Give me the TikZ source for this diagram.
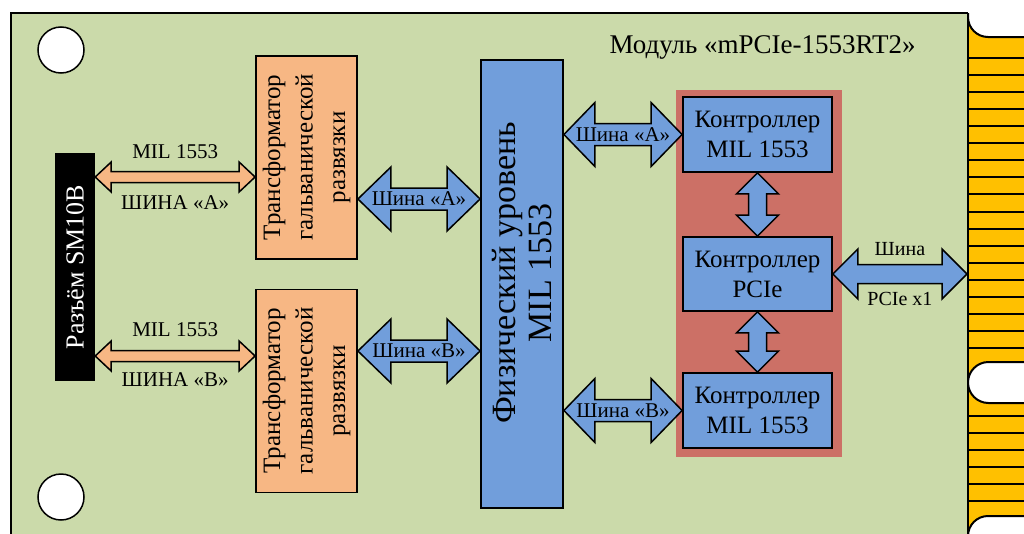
\documentclass[tikz,border=0pt]{standalone}
\usepackage{fontspec}
\setmainfont{Liberation Serif}
\usetikzlibrary{calc}
\definecolor{board}{HTML}{CBDAAA}
\definecolor{gold}{HTML}{FFC000}
\definecolor{orng}{HTML}{F7B784}
\definecolor{blu}{HTML}{719EDB}
\definecolor{redarea}{HTML}{CC7066}
% horizontal double arrow: style, left point, right point, shaft half, head half, head length
\newcommand{\harr}[6]{%
  \path[#1] let \p1=(#2), \p2=(#3) in
  (\x1,\y1) -- (\x1+#6pt,\y1+#5pt) -- (\x1+#6pt,\y1+#4pt) -- (\x2-#6pt,\y1+#4pt) -- (\x2-#6pt,\y1+#5pt)
  -- (\x2,\y1) -- (\x2-#6pt,\y1-#5pt) -- (\x2-#6pt,\y1-#4pt) -- (\x1+#6pt,\y1-#4pt) -- (\x1+#6pt,\y1-#5pt) -- cycle;}
% vertical double arrow: style, top point, bottom point, shaft half, head half, head length
\newcommand{\varr}[6]{%
  \path[#1] let \p1=(#2), \p2=(#3) in
  (\x1,\y1) -- (\x1+#5pt,\y1-#6pt) -- (\x1+#4pt,\y1-#6pt) -- (\x1+#4pt,\y2+#6pt) -- (\x1+#5pt,\y2+#6pt)
  -- (\x1,\y2) -- (\x1-#5pt,\y2+#6pt) -- (\x1-#4pt,\y2+#6pt) -- (\x1-#4pt,\y1-#6pt) -- (\x1-#5pt,\y1-#6pt) -- cycle;}
\begin{document}
\begin{tikzpicture}[x=1pt,y=-1pt,
  box/.style={draw=black, line width=1.8pt, inner sep=0pt},
  trbox/.style={box, fill=orng, minimum width=101pt, minimum height=203pt},
  ctrl/.style={box, fill=blu, minimum width=149pt, minimum height=75pt, align=center,
               font=\fontsize{25}{30}\selectfont},
  hole/.style={circle, draw=black, line width=1.5pt, fill=white, minimum size=46pt, inner sep=0pt},
  oarr/.style={draw=black, fill=orng, line width=1.5pt, line join=miter},
  barr/.style={draw=black, fill=blu, line width=1.5pt, line join=miter},
  lbl/.style={font=\fontsize{21}{24}\selectfont, inner sep=0pt},
  vtext/.style={rotate=90, align=center, inner sep=0pt}
]
\clip (0,0) rectangle (1024,533);
\fill[white] (0,0) rectangle (1024,533);
% board
\draw[fill=board, line width=2pt] (11,13) rectangle (968,545);
% gold edge connector
\fill[gold] (968,13) rectangle (1030,545);
\foreach \k in {0,...,17} \draw[line width=2pt] (968,58+17.06*\k) -- (1030,58+17.06*\k);
\foreach \yy in {416,433,450,467,484,501} \draw[line width=2pt] (968,\yy) -- (1030,\yy);
\fill[white] (1030,-5) -- (968,-5) -- (968,17) arc[start angle=180, end angle=90, radius=20] -- (1030,37) -- cycle;
\draw[line width=2pt] (968,13) -- (968,17) arc[start angle=180, end angle=90, radius=20] -- (1030,37);
\filldraw[fill=white, line width=2pt] (1030,362) -- (988.5,362) arc[start angle=270, end angle=90, radius=20.5] -- (1030,403);
\filldraw[fill=white, line width=2pt] (1030,516) -- (988,516) arc[start angle=270, end angle=180, radius=20] -- (968,545) -- (1030,545);
\draw[line width=2pt] (968,13) -- (968,545);
% mounting holes
\node[hole] (h1) at (61,50) {};
\node[hole] (h2) at (61,497) {};
% title
\node[font=\fontsize{27}{30}\selectfont] (title) at (762.5,47) {Модуль «mPCIe-1553RT2»};
% connector
\node[fill=black, minimum width=40pt, minimum height=228pt, inner sep=0pt] (conn) at (75,267) {};
\node[vtext, text=white, font=\fontsize{26}{30}\selectfont] (connt) at (conn) {Разъём SM10B};
% transformers
\node[trbox] (tr1) at (306.5,157.5) {};
\node[vtext, font=\fontsize{25}{32.5}\selectfont] (tr1t) at (tr1) {Трансформатор\\гальванической\\развязки};
\node[trbox] (tr2) at (306.5,391) {};
\node[vtext, font=\fontsize{25}{32.5}\selectfont] (tr2t) at (tr2) {Трансформатор\\гальванической\\развязки};
% physical layer
\node[box, fill=blu, minimum width=82pt, minimum height=448pt] (phy) at (522,284) {};
\node[vtext, font=\fontsize{34}{36}\selectfont] (phyt) at ([yshift=11pt]phy.center) {Физический уровень\\MIL 1553};
% controller area
\node[fill=redarea, minimum width=166pt, minimum height=367pt, inner sep=0pt] (area) at (759,273.5) {};
\node[ctrl] (c1) at (757.5,134.5) {Контроллер\\MIL 1553};
\node[ctrl, minimum height=74pt] (c2) at (757.5,274) {Контроллер\\PCIe};
\node[ctrl] (c3) at (757.5,410.5) {Контроллер\\MIL 1553};
% row coordinates
\coordinate (rA1) at (0,177);
\coordinate (rB1) at (0,356);
\coordinate (rA2) at (0,199);
\coordinate (rB2) at (0,351);
\coordinate (edge) at (967,274);
% orange arrows
\harr{oarr}{conn.east |- rA1}{tr1.west |- rA1}{5.5}{15}{16}
\harr{oarr}{conn.east |- rB1}{tr2.west |- rB1}{5.5}{15}{16}
\path (conn.east |- rA1) -- node[lbl, yshift=25pt] (la1) {MIL 1553} node[lbl, yshift=-26pt] (la2) {ШИНА «А»} (tr1.west |- rA1);
\path (conn.east |- rB1) -- node[lbl, yshift=26pt] (lb1) {MIL 1553} node[lbl, yshift=-24pt] (lb2) {ШИНА «В»} (tr2.west |- rB1);
% blue arrows left
\harr{barr}{tr1.east |- rA2}{phy.west |- rA2}{11}{32}{33}
\harr{barr}{tr2.east |- rB2}{phy.west |- rB2}{11}{32}{33}
\path (tr1.east |- rA2) -- node[lbl] (lc1) {Шина «А»} (phy.west |- rA2);
\path (tr2.east |- rB2) -- node[lbl] (lc2) {Шина «В»} (phy.west |- rB2);
% blue arrows right
\harr{barr}{phy.east |- c1.west}{c1.west}{11}{32}{31}
\harr{barr}{phy.east |- c3.west}{c3.west}{11}{32}{31}
\path (phy.east |- c1.west) -- node[lbl] (ld1) {Шина «А»} (c1.west);
\path (phy.east |- c3.west) -- node[lbl] (ld2) {Шина «В»} (c3.west);
% vertical arrows
\varr{barr}{c1.south}{c2.north}{9}{21}{21}
\varr{barr}{c2.south}{c3.north}{9}{21}{21}
% PCIe arrow
\harr{barr}{c2.east}{edge}{9.5}{25}{25}
\path (c2.east) -- node[lbl, font=\fontsize{20}{24}\selectfont, yshift=25pt] (le1) {Шина}
  node[lbl, font=\fontsize{20}{24}\selectfont, yshift=-25pt] (le2) {PCIe x1} (edge);
\end{tikzpicture}
\end{document}
